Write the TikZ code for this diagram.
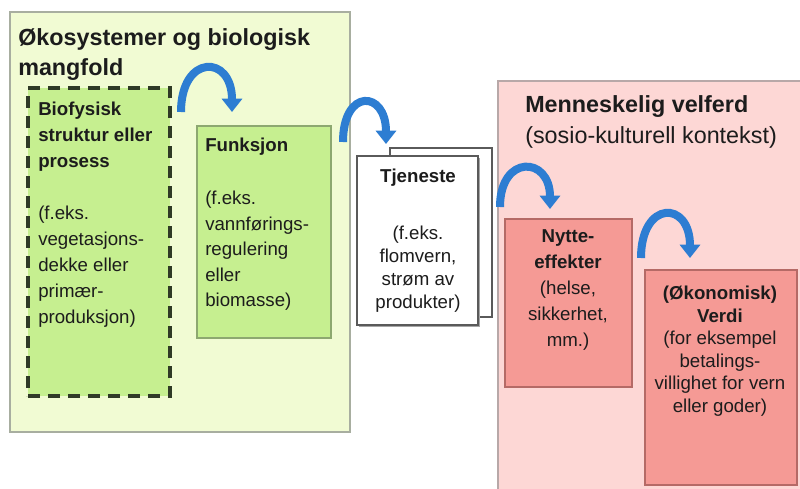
\documentclass[tikz,border=0pt]{standalone}
\usepackage{fontspec}
\setmainfont{Liberation Sans}
\usetikzlibrary{calc,fit,arrows.meta}
\definecolor{ecofill}{HTML}{F1FBD3}
\definecolor{ecoline}{HTML}{A8AEA0}
\definecolor{leaffill}{HTML}{C6EF90}
\definecolor{leafline}{HTML}{8DA870}
\definecolor{dashline}{HTML}{2F3A26}
\definecolor{welfill}{HTML}{FDD7D5}
\definecolor{welline}{HTML}{B8A8A8}
\definecolor{rosefill}{HTML}{F59A95}
\definecolor{roseline}{HTML}{B56A66}
\definecolor{sheetline}{HTML}{5A5A5A}
\definecolor{flowblue}{HTML}{2D7DD2}
\definecolor{ink}{HTML}{1C1C1C}
\tikzset{
	area/.style={inner sep=0pt, line width=1pt},
	card/.style={inner sep=0pt, line width=0.8pt},
	txt/.style={inner sep=0pt, text=ink, align=left},
	flowarrow/.style={line width=6pt, draw=flowblue, -{Triangle[width=15pt,length=10pt]}}
}

\begin{document}
\begin{tikzpicture}[x=0.75pt, y=-0.75pt]
			%%%%% START %%%%%
			\clip (0,0) rectangle (800,489);
			\fill[white] (0,0) rectangle (800,489);
			
			% okosystem side
			\node[area, draw=ecoline, fill=ecofill, fit={(10,12) (350,432)}] (eco) {};
			\node[txt, anchor=north west, font=\bfseries\fontsize{17.5}{22.5}\selectfont] (ecotitle) at (18,28) {Økosystemer og biologisk\\mangfold};
			
			\node[card, draw=dashline, fill=leaffill, line width=2.3pt, dash pattern=on 9pt off 6pt, fit={(28,88) (170,396)}] (bio) {};
			\node[txt, anchor=north west, font=\bfseries\fontsize{14}{19.5}\selectfont] (biotitle) at (38,102) {Biofysisk\\struktur eller\\prosess};
			\node[txt, anchor=north west, font=\fontsize{14}{19.5}\selectfont] (biotext) at (38,206) {(f.eks.\\vegetasjons-\\dekke eller\\primær-\\produksjon)};
			
			\node[card, draw=leafline, fill=leaffill, fit={(197,126) (331,338)}] (fun) {};
			\node[txt, anchor=north west, font=\bfseries\fontsize{14}{19.1}\selectfont] (funtitle) at (205,138) {Funksjon};
			\node[txt, anchor=north west, font=\fontsize{14}{19.1}\selectfont] (funtext) at (205,191) {(f.eks.\\vannførings-\\regulering\\eller\\biomasse)};
			
			% tjeneste, two sheets
			\node[card, draw=sheetline, fill=white, fit={(390,148) (492,317)}] (tjeback) {};
			\fill[black!35] (359,158) rectangle (480,327);
			\node[card, draw=sheetline, fill=white, fit={(357,156) (478,325)}] (tje) {};
			\node[txt, anchor=north, align=center, font=\bfseries\fontsize{14}{17.25}\selectfont] (tjetitle) at (418,169) {Tjeneste};
			\node[txt, anchor=north, align=center, font=\fontsize{14}{17.25}\selectfont] (tjetext) at (418,226) {(f.eks.\\flomvern,\\strøm av\\produkter)};
			
			% velferd side
			\node[area, draw=welline, fill=welfill, fit={(498,81) (806,495)}] (wel) {};
			\node[txt, anchor=north west, font=\fontsize{17.5}{23.25}\selectfont] (weltitle) at (525,95) {\textbf{Menneskelig velferd}\\(sosio-kulturell kontekst)};
			
			\node[card, draw=roseline, fill=rosefill, fit={(505,219) (632,387)}] (nyt) {};
			\node[txt, anchor=north, align=center, font=\fontsize{14}{19.5}\selectfont] (nyttext) at (568,229) {\textbf{Nytte-}\\\textbf{effekter}\\(helse,\\sikkerhet,\\mm.)};
			
			\node[card, draw=roseline, fill=rosefill, fit={(645,270) (797,485)}] (ver) {};
			\node[txt, anchor=north, align=center, font=\fontsize{14}{16.9}\selectfont] (vertext) at (720,286) {\textbf{(Økonomisk)}\\\textbf{Verdi}\\(for eksempel\\betalings-\\villighet for vern\\eller goder)};
			
			% curved arrows
			\coordinate (a1s) at (181,112);
			\coordinate (a1e) at (232,112);
			\coordinate (a2s) at (343,142);
			\coordinate (a2e) at (386,144);
			\coordinate (a3s) at (500,207);
			\coordinate (a3e) at (550,209);
			\coordinate (a4s) at (641,258);
			\coordinate (a4e) at (690,258);
			
			\draw[flowarrow] (a1s) .. controls ($(a1s)+(0,-58)$) and ($(a1e)+(0,-58)$) .. (a1e);
			\draw[flowarrow] (a2s) .. controls ($(a2s)+(0,-54)$) and ($(a2e)+(0,-54)$) .. (a2e);
			\draw[flowarrow] (a3s) .. controls ($(a3s)+(0,-53)$) and ($(a3e)+(0,-53)$) .. (a3e);
			\draw[flowarrow] (a4s) .. controls ($(a4s)+(0,-58)$) and ($(a4e)+(0,-58)$) .. (a4e);
			
			%%%%% END %%%%%
\end{tikzpicture}
\end{document}
